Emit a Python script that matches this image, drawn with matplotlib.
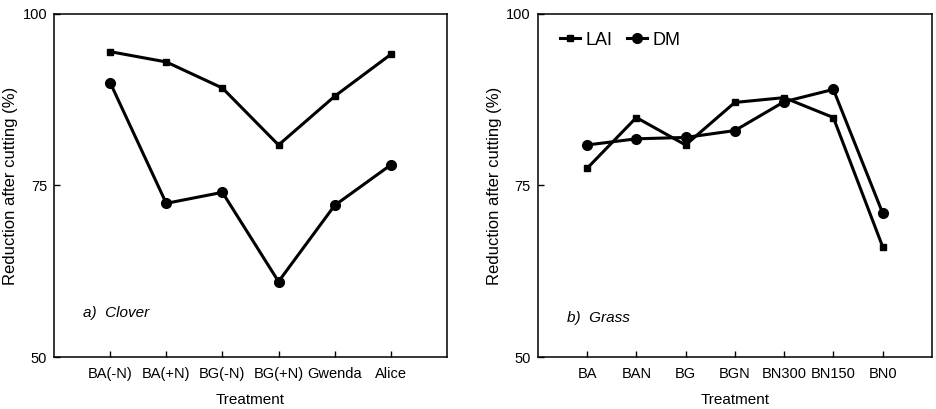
import numpy as np
import matplotlib.pyplot as plt

plt.rcParams['font.family'] = ['Liberation Sans', 'DejaVu Sans']

clover_trt = ['BA(-N)', 'BA(+N)', 'BG(-N)', 'BG(+N)', 'Gwenda', 'Alice']
clover_lai = [94.5, 93.0, 89.2, 80.9, 88.0, 94.1]
clover_dm = [90.0, 72.4, 74.0, 61.0, 72.1, 78.0]

grass_trt = ['BA', 'BAN', 'BG', 'BGN', 'BN300', 'BN150', 'BN0']
grass_lai = [77.5, 84.9, 80.9, 87.1, 87.8, 84.9, 66.1]
grass_dm = [80.9, 81.8, 82.0, 83.0, 87.2, 89.0, 71.0]

yticks = [50, 75, 100]

fig = plt.figure(figsize=(9.37, 4.09), dpi=100)
ax1 = fig.add_axes([0.0576, 0.127, 0.4194, 0.839])
ax2 = fig.add_axes([0.574, 0.127, 0.4205, 0.839])


def draw(ax, trt, lai, dm, label, label_y, legend=False):
    x = np.arange(len(trt))
    ax.plot(x, lai, '-s', color='black', lw=2.2, ms=5, label='LAI')
    ax.plot(x, dm, '-o', color='black', lw=2.2, ms=7, label='DM')
    ax.set_xlim(-1, len(trt))
    ax.set_ylim(50, 100)
    ax.set_xticks(x)
    ax.set_xticklabels(trt, fontsize=10.5)
    ax.set_yticks(yticks)
    ax.set_yticklabels([str(t) for t in yticks], fontsize=10.5)
    ax.tick_params(direction='in', length=4, width=1)
    ax.tick_params(axis='x', pad=7)
    ax.tick_params(axis='y', pad=5)
    ax.set_xlabel('Treatment', fontsize=11, labelpad=9)
    ax.set_ylabel('Reduction after cutting (%)', fontsize=12, labelpad=3)
    for s in ax.spines.values():
        s.set_linewidth(1.1)
    ax.text(0.075, label_y, label, transform=ax.transAxes, fontsize=11,
            style='italic', va='center')
    if legend:
        ax.legend(loc='upper left', ncol=2, frameon=False, fontsize=13,
                  handlelength=1.1, handletextpad=0.3, columnspacing=0.8,
                  borderaxespad=0.3, bbox_to_anchor=(0.025, 0.985))


draw(ax1, clover_trt, clover_lai, clover_dm, 'a)  Clover', 0.128)
draw(ax2, grass_trt, grass_lai, grass_dm, 'b)  Grass', 0.114, legend=True)

fig.savefig('out.png', dpi=100)
